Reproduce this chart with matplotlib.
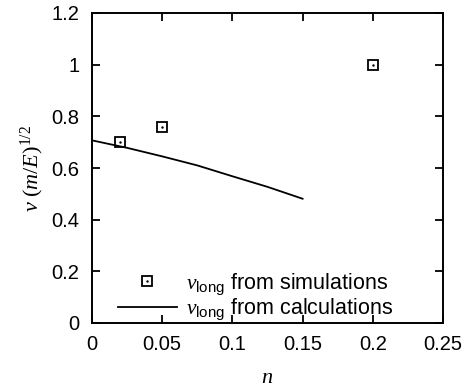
import matplotlib
matplotlib.use("Agg")
import matplotlib.pyplot as plt
from matplotlib.ticker import FuncFormatter

plt.rcParams['font.family'] = ['Liberation Sans', 'DejaVu Sans']
plt.rcParams['mathtext.fontset'] = 'custom'
plt.rcParams['mathtext.rm'] = 'Liberation Serif'
plt.rcParams['mathtext.it'] = 'Liberation Serif:italic'
plt.rcParams['mathtext.sf'] = 'Liberation Sans'

# simulation points
sim_n = [0.02, 0.05, 0.2]
sim_v = [0.70, 0.76, 1.00]

# calculated curve
calc_n = [0.0, 0.025, 0.05, 0.075, 0.1, 0.125, 0.15]
calc_v = [0.707, 0.678, 0.645, 0.610, 0.568, 0.527, 0.481]

xticks = [0, 0.05, 0.1, 0.15, 0.2, 0.25]
yticks = [0, 0.2, 0.4, 0.6, 0.8, 1.0, 1.2]

fig = plt.figure(figsize=(4.74, 3.92), dpi=100)
ax = fig.add_axes([92 / 474, 1 - 323 / 392, 351 / 474, 310 / 392])

sq, = ax.plot(sim_n, sim_v, linestyle='none', marker='s', markersize=6.5,
              markerfacecolor='none', markeredgecolor='black', markeredgewidth=1.3)
dot, = ax.plot(sim_n, sim_v, linestyle='none', marker='.', markersize=1.5, color='black')
ln, = ax.plot(calc_n, calc_v, color='black', linewidth=1.3)

ax.set_xlim(0, 0.25)
ax.set_ylim(0, 1.2)
ax.set_xticks(xticks)
ax.set_yticks(yticks)
fmt = FuncFormatter(lambda v, p: '%g' % v)
ax.xaxis.set_major_formatter(fmt)
ax.yaxis.set_major_formatter(fmt)
ax.tick_params(direction='in', length=6, width=1.3, top=True, right=True,
               labelsize=14.5, pad=9)
for s in ax.spines.values():
    s.set_linewidth(1.4)

ax.set_xlabel(r'$n$', fontsize=16, labelpad=9)
ax.set_ylabel(r'$v\ (m/E)^{\mathit{1/2}}$', fontsize=16, labelpad=4)

ax.legend([(sq, dot), ln],
          [r'$v_{\mathsf{long}}$ from simulations', r'$v_{\mathsf{long}}$ from calculations'],
          loc='lower left', bbox_to_anchor=(0.02, -0.06), frameon=False,
          fontsize=15.5, handlelength=2.7, handletextpad=0.45, labelspacing=0.0)

fig.savefig('out.png', dpi=100)
